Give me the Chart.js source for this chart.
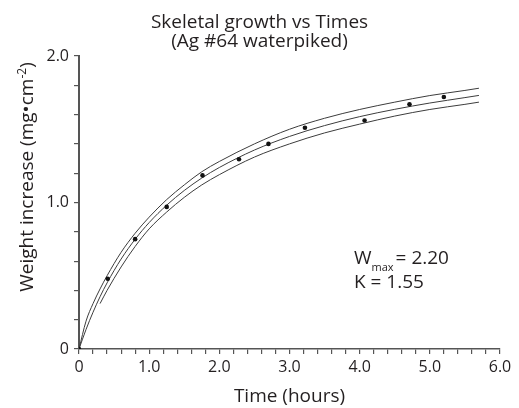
<!DOCTYPE html>
<html>
<head>
<meta charset="utf-8">
<script src="https://cdn.jsdelivr.net/npm/chart.js@4.4.1/dist/chart.umd.min.js"></script>
<style>
  html, body { margin: 0; padding: 0; background: #fff; }
  canvas { display: block; }
</style>
</head>
<body>
<canvas id="growthChart" width="519" height="408"></canvas>
<script>
// measured points (hours, mg/cm2)
const timePoints = [0, 0.41, 0.80, 1.25, 1.76, 2.28, 2.70, 3.22, 4.07, 4.71, 5.20];
const weightPoints = [0, 0.48, 0.75, 0.97, 1.185, 1.295, 1.40, 1.51, 1.56, 1.67, 1.72];

// fitted curve and its two bounds
const curveTimes = [0, 0.1, 0.2, 0.3, 0.4, 0.6, 0.8, 1.0, 1.25, 1.5, 1.75, 2.0, 2.5, 3.0, 3.5, 4.0, 4.5, 5.0, 5.5, 5.7];
const fitCurve = [0, 0.133, 0.251, 0.357, 0.451, 0.614, 0.749, 0.863, 0.982, 1.082, 1.167, 1.239, 1.358, 1.451, 1.525, 1.586, 1.636, 1.679, 1.716, 1.731];
const upperCurve = [0, 0.19, 0.31, 0.41, 0.50, 0.66, 0.79, 0.90, 1.02, 1.12, 1.21, 1.28, 1.40, 1.50, 1.575, 1.635, 1.685, 1.73, 1.765, 1.78];
const lowerTimes = [0.3, 0.4, 0.6, 0.8, 1.0, 1.25, 1.5, 1.75, 2.0, 2.5, 3.0, 3.5, 4.0, 4.5, 5.0, 5.5, 5.7];
const lowerCurve = [0.31, 0.40, 0.56, 0.70, 0.82, 0.935, 1.035, 1.12, 1.19, 1.31, 1.40, 1.475, 1.535, 1.59, 1.635, 1.67, 1.685];

const xTicks = [0, 1, 2, 3, 4, 5, 6];
const yTicks = [0, 1, 2];

const textColor = '#231f20';
const axisColor = '#555555';
const lineColor = '#3c3c3c';
const fontName = "'Open Sans', sans-serif";

function toPoints(xs, ys) {
    return xs.map(function (x, i) { return { x: x, y: ys[i] }; });
}

function tickLabel(value, list) {
    for (let i = 0; i < list.length; i++) {
        if (Math.abs(value - list[i]) < 1e-6) {
            return list[i] === 0 ? '0' : list[i].toFixed(1);
        }
    }
    return '';
}

// y axis title with the superscript and the Wmax / K note
const extraText = {
    id: 'extraText',
    afterDraw(chart) {
        const ctx = chart.ctx;
        ctx.save();
        ctx.fillStyle = textColor;
        ctx.textBaseline = 'alphabetic';

        // rotated y title
        const big = '19px ' + fontName;
        const small = '12px ' + fontName;
        const partA = 'Weight increase (mg•cm';
        const partB = '-2';
        const partC = ')';
        ctx.font = big;
        const wA = ctx.measureText(partA).width;
        const wC = ctx.measureText(partC).width;
        ctx.font = small;
        const wB = ctx.measureText(partB).width;
        const total = wA + wB + wC;
        ctx.translate(33, 177);
        ctx.rotate(-Math.PI / 2);
        let x = -total / 2;
        ctx.font = big;
        ctx.fillText(partA, x, 0);
        x += wA;
        ctx.font = small;
        ctx.fillText(partB, x, -7);
        x += wB;
        ctx.font = big;
        ctx.fillText(partC, x, 0);
        ctx.setTransform(1, 0, 0, 1, 0, 0);

        // Wmax and K
        const noteFont = '19px ' + fontName;
        ctx.font = noteFont;
        let nx = 354;
        ctx.fillText('W', nx, 264);
        nx += ctx.measureText('W').width;
        ctx.font = '11px ' + fontName;
        ctx.fillText('max', nx, 271);
        nx += ctx.measureText('max').width + 2;
        ctx.font = noteFont;
        ctx.fillText('= 2.20', nx, 264);
        ctx.fillText('K = 1.55', 354, 288);
        ctx.restore();
    }
};

const ctx = document.getElementById('growthChart').getContext('2d');
const growthChart = new Chart(ctx, {
    type: 'scatter',
    data: {
        datasets: [
            {
                label: 'measured',
                data: toPoints(timePoints, weightPoints),
                showLine: false,
                pointRadius: 2.3,
                pointBackgroundColor: '#111',
                pointBorderWidth: 0,
                order: 0
            },
            {
                label: 'fit',
                data: toPoints(curveTimes, fitCurve),
                showLine: true,
                pointRadius: 0,
                borderColor: lineColor,
                borderWidth: 1,
                cubicInterpolationMode: 'monotone',
                order: 1
            },
            {
                label: 'upper',
                data: toPoints(curveTimes, upperCurve),
                showLine: true,
                pointRadius: 0,
                borderColor: lineColor,
                borderWidth: 1,
                cubicInterpolationMode: 'monotone',
                order: 1
            },
            {
                label: 'lower',
                data: toPoints(lowerTimes, lowerCurve),
                showLine: true,
                pointRadius: 0,
                borderColor: lineColor,
                borderWidth: 1,
                cubicInterpolationMode: 'monotone',
                order: 1
            }
        ]
    },
    options: {
        responsive: false,
        animation: false,
        layout: { padding: 0 },
        plugins: {
            legend: { display: false },
            tooltip: { enabled: false },
            title: {
                display: true,
                text: ['Skeletal growth vs Times', '(Ag #64 waterpiked)'],
                color: textColor,
                font: { family: fontName, size: 19, weight: 'normal', lineHeight: 1.0 },
                padding: { top: 13, bottom: 5 }
            }
        },
        scales: {
            x: {
                type: 'linear',
                min: 0,
                max: 6,
                afterFit(scale) {
                    scale.height = 59;
                    scale.paddingRight = 19;
                },
                ticks: {
                    stepSize: 0.2,
                    autoSkip: false,
                    maxRotation: 0,
                    padding: 4,
                    color: textColor,
                    font: { family: fontName, size: 16 },
                    callback: function (value) { return tickLabel(value, xTicks); }
                },
                grid: { drawOnChartArea: false, drawTicks: true, tickLength: 5, color: axisColor, lineWidth: 1.2 },
                border: { display: true, color: axisColor, width: 1.6 },
                title: {
                    display: true,
                    text: 'Time (hours)',
                    color: textColor,
                    font: { family: fontName, size: 19 },
                    padding: { top: 7, bottom: 0 }
                }
            },
            y: {
                type: 'linear',
                min: 0,
                max: 2,
                afterFit(scale) { scale.width = 79; },
                ticks: {
                    stepSize: 0.2,
                    autoSkip: false,
                    padding: 5,
                    color: textColor,
                    font: { family: fontName, size: 16 },
                    callback: function (value) { return tickLabel(value, yTicks); }
                },
                grid: { drawOnChartArea: false, drawTicks: true, tickLength: 5, color: axisColor, lineWidth: 1.2 },
                border: { display: true, color: axisColor, width: 2 }
            }
        }
    },
    plugins: [extraText]
});
</script>
</body>
</html>
